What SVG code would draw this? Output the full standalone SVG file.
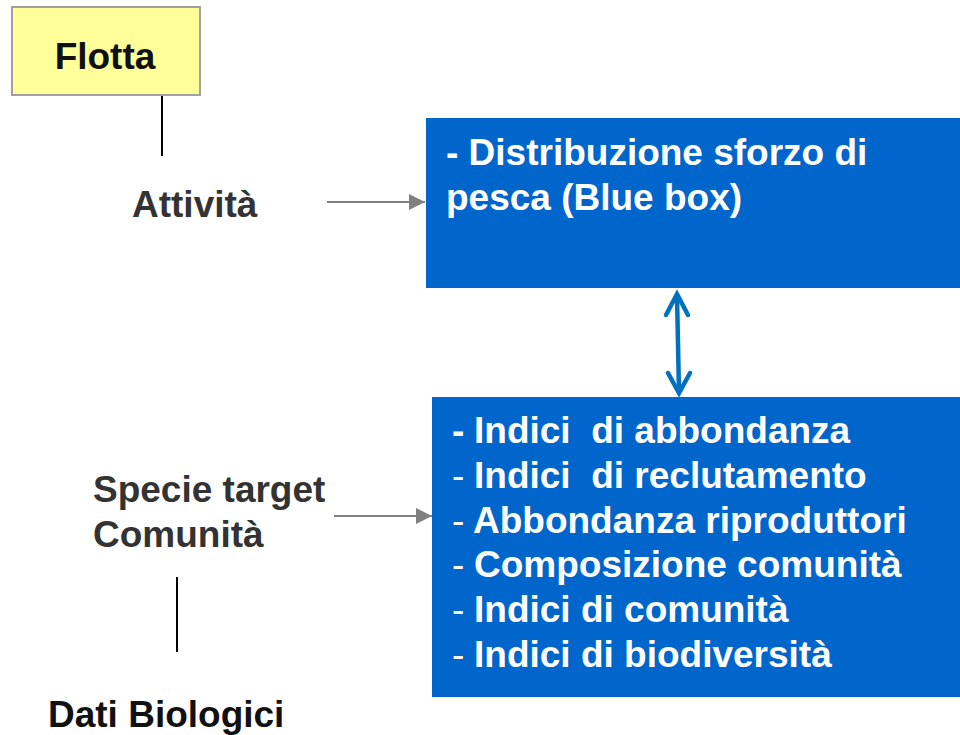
<svg xmlns="http://www.w3.org/2000/svg" width="960" height="735" viewBox="0 0 960 735">
<defs>
<style>
.lbl{font-family:"Liberation Sans",Arial,sans-serif;font-weight:bold;font-size:37px;}
.dark{fill:#333333;}
.wt{fill:#FFFFFF;white-space:pre;}
.thin{font-weight:normal;}
.blue{fill:#0066CC;}
.conn{stroke:#808080;stroke-width:2;fill:none;}
.vline{stroke:#000000;stroke-width:2;}
.dbl{stroke:#0070C0;stroke-width:4.5;fill:none;stroke-linecap:round;stroke-linejoin:miter;}
</style>
<marker id="ah" markerWidth="16" markerHeight="16" refX="16" refY="8" orient="auto" markerUnits="userSpaceOnUse">
<path d="M0,0 L16,8 L0,16 Z" fill="#808080"/>
</marker>
</defs>
<rect width="960" height="735" fill="#FFFFFF"/>

<g id="flotta">
<rect x="12" y="7" width="188" height="88" fill="#FFFF99" stroke="#A0A0A0" stroke-width="2"/>
<text class="lbl" x="105" y="69" text-anchor="middle" fill="#111111">Flotta</text>
</g>

<g id="attivita">
<text class="lbl dark" x="132" y="217">Attività</text>
</g>

<g id="box-sforzo">
<rect class="blue" x="426" y="118" width="534" height="170"/>
<text class="lbl wt" x="446" y="165">- Distribuzione sforzo di</text>
<text class="lbl wt" x="446" y="210">pesca (Blue box)</text>
</g>

<g id="specie">
<text class="lbl dark" x="93" y="502">Specie target</text>
<text class="lbl dark" x="93" y="547">Comunità</text>
</g>

<g id="dati-biologici">
<text class="lbl" x="48" y="727" fill="#111111">Dati Biologici</text>
</g>

<g id="box-indici">
<rect class="blue" x="432" y="397" width="528" height="300"/>
<text class="lbl wt" y="443"><tspan x="452">-</tspan><tspan x="474">Indici  di abbondanza</tspan></text>
<text class="lbl wt" y="488"><tspan x="452" class="thin">-</tspan><tspan x="474">Indici  di reclutamento</tspan></text>
<text class="lbl wt" y="533"><tspan x="452" class="thin">-</tspan><tspan x="473">Abbondanza riproduttori</tspan></text>
<text class="lbl wt" y="577"><tspan x="452" class="thin">-</tspan><tspan x="474">Composizione comunità</tspan></text>
<text class="lbl wt" y="622"><tspan x="452" class="thin">-</tspan><tspan x="474">Indici di comunità</tspan></text>
<text class="lbl wt" y="667"><tspan x="452" class="thin">-</tspan><tspan x="474">Indici di biodiversità</tspan></text>
</g>

<g id="connectors">
<line class="vline" x1="162" y1="96" x2="162" y2="156"/>
<line class="vline" x1="177" y1="577" x2="177" y2="652"/>
<line class="conn" x1="327" y1="202" x2="425" y2="202" marker-end="url(#ah)"/>
<line class="conn" x1="334" y1="516" x2="432" y2="516" marker-end="url(#ah)"/>
<path class="dbl" d="M677,296 L679,392"/>
<path class="dbl" d="M666,315 L677,294 L688,315"/>
<path class="dbl" d="M668,373 L679,393 L690,373"/>
</g>
</svg>
